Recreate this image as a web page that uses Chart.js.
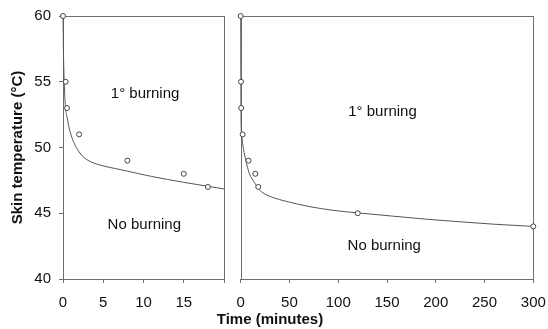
<!DOCTYPE html>
<html><head><meta charset="utf-8">
<script src="https://cdn.jsdelivr.net/npm/chart.js@4/dist/chart.umd.min.js"></script>
<style>
body{margin:0;background:#fff;width:548px;height:329px;overflow:hidden;position:relative;font-family:Arial,"Liberation Sans",sans-serif}
canvas{position:absolute;top:0}
#xt{position:absolute;left:170px;width:200px;top:310px;text-align:center;font-weight:bold;font-size:15px;line-height:18px;color:#111}
</style></head><body>
<canvas id="c1" width="232" height="329" style="left:0"></canvas>
<canvas id="c2" width="316" height="329" style="left:232px"></canvas>
<div id="xt">Time (minutes)</div>
<script>
// observed points
const obsTimeShort = [0, 0.33, 0.5, 2, 8, 15, 18];
const obsTempShort = [60, 55, 53, 51, 49, 48, 47];
const obsTimeLong = [0, 0.33, 0.5, 2, 8, 15, 18, 120, 300];
const obsTempLong = [60, 55, 53, 51, 49, 48, 47, 45, 44];
// fitted curve
const fitTimeShort = [0, 0.05, 0.15, 0.3, 0.5, 0.8, 1.2, 1.7, 2.5, 3.5, 5, 6.5, 8, 11, 15, 18, 20];
const fitTempShort = [60, 57.5, 55, 53.1, 52.3, 51.4, 50.6, 49.95, 49.3, 48.9, 48.6, 48.4, 48.2, 47.8, 47.35, 47.05, 46.85];
const fitTimeLong = [0, 0.3, 1, 2, 5, 9, 14, 17, 21, 33, 47, 57, 71, 95, 120, 156, 190, 225, 259, 300];
const fitTempLong = [60, 52.3, 51.0, 50.3, 49.1, 48.0, 47.35, 47.0, 46.65, 46.2, 45.9, 45.72, 45.5, 45.22, 45.03, 44.78, 44.55, 44.35, 44.17, 44.0];
// ticks
const shortTicks = [0, 5, 10, 15, 20];
const shortTickLabels = ['0', '5', '10', '15', ''];
const longTicks = [0, 50, 100, 150, 200, 250, 300];
const yTicks = [40, 45, 50, 55, 60];
const regionLabels = ['1° burning', 'No burning'];

const FONT = 'Arial, "Liberation Sans", sans-serif';
const AXIS = '#6e6e6e';

function pts(xs, ys){ return xs.map((x,i)=>({x:x, y:ys[i]})); }

const boxPlugin = {
  id:'boxText',
  beforeDatasetsDraw(chart){
    const {ctx, chartArea:a} = chart;
    ctx.save();
    ctx.strokeStyle = AXIS; ctx.lineWidth = 1;
    ctx.strokeRect(Math.round(a.left)+0.5, Math.round(a.top)+0.5, Math.round(a.right)-Math.round(a.left), Math.round(a.bottom)-Math.round(a.top));
    const o = chart.options.plugins.boxText;
    ctx.fillStyle = '#111';
    ctx.font = '15px ' + FONT;
    ctx.textAlign = 'center'; ctx.textBaseline = 'middle';
    o.labels.forEach(l=>{
      ctx.fillText(l.text, chart.scales.x.getPixelForValue(l.x), chart.scales.y.getPixelForValue(l.y));
    });
    ctx.restore();
  }
};

function makeChart(id, obsX, obsY, fitX, fitY, xMax, xTicks, xLabels, showY, pad, labels){
  return new Chart(document.getElementById(id), {
    type:'scatter',
    data:{datasets:[
      {data:pts(obsX, obsY), pointRadius:2.5, pointHoverRadius:2.5, borderWidth:1, borderColor:'#444', backgroundColor:'#fff', showLine:false, clip:false},
      {data:pts(fitX, fitY), showLine:true, pointRadius:0, borderWidth:1, borderColor:'#555', backgroundColor:'transparent', cubicInterpolationMode:'monotone', clip:false}
    ]},
    options:{
      responsive:false, animation:false, devicePixelRatio:1,
      layout:{padding:pad},
      plugins:{legend:{display:false}, tooltip:{enabled:false}, boxText:{labels:labels}},
      scales:{
        x:{type:'linear', min:0, max:xMax,
           afterBuildTicks:s=>{s.ticks = xTicks.map(v=>({value:v}));},
           afterFit:s=>{s.height = 50; s.paddingLeft = 0; s.paddingRight = 0;},
           border:{display:false},
           grid:{drawOnChartArea:false, drawTicks:true, tickLength:4, color:AXIS},
           ticks:{padding:11, maxRotation:0, autoSkip:false, color:'#111', font:{family:FONT, size:15},
                  callback:(v,i)=>xLabels[i]}},
        y:{type:'linear', min:40, max:60, display:showY,
           afterBuildTicks:s=>{s.ticks = yTicks.map(v=>({value:v}));},
           afterFit:s=>{ s.width = showY ? 63 : 0; s.paddingTop = 0; s.paddingBottom = 0; },
           border:{display:false},
           grid:{drawOnChartArea:false, drawTicks:true, tickLength:4, color:AXIS},
           title:{display:true, text:'Skin temperature (°C)', color:'#111', font:{family:FONT, size:15, weight:'bold'}, padding:{top:9,bottom:0}},
           ticks:{padding:8, color:'#111', font:{family:FONT, size:15}, callback:(v,i)=>String(yTicks[i])}}
      }
    },
    plugins:[boxPlugin]
  });
}

makeChart('c1', obsTimeShort, obsTempShort, fitTimeShort, fitTempShort, 20, shortTicks, shortTickLabels, true,
  {top:16, right:8, bottom:0, left:0},
  [{text:regionLabels[0], x:10.2, y:54.1}, {text:regionLabels[1], x:10.1, y:44.1}]);
makeChart('c2', obsTimeLong, obsTempLong, fitTimeLong, fitTempLong, 300, longTicks, longTicks.map(String), false,
  {top:16, right:14.7, bottom:0, left:8.7},
  [{text:regionLabels[0], x:145.4, y:52.7}, {text:regionLabels[1], x:147.2, y:42.5}]);
</script>
</body></html>
